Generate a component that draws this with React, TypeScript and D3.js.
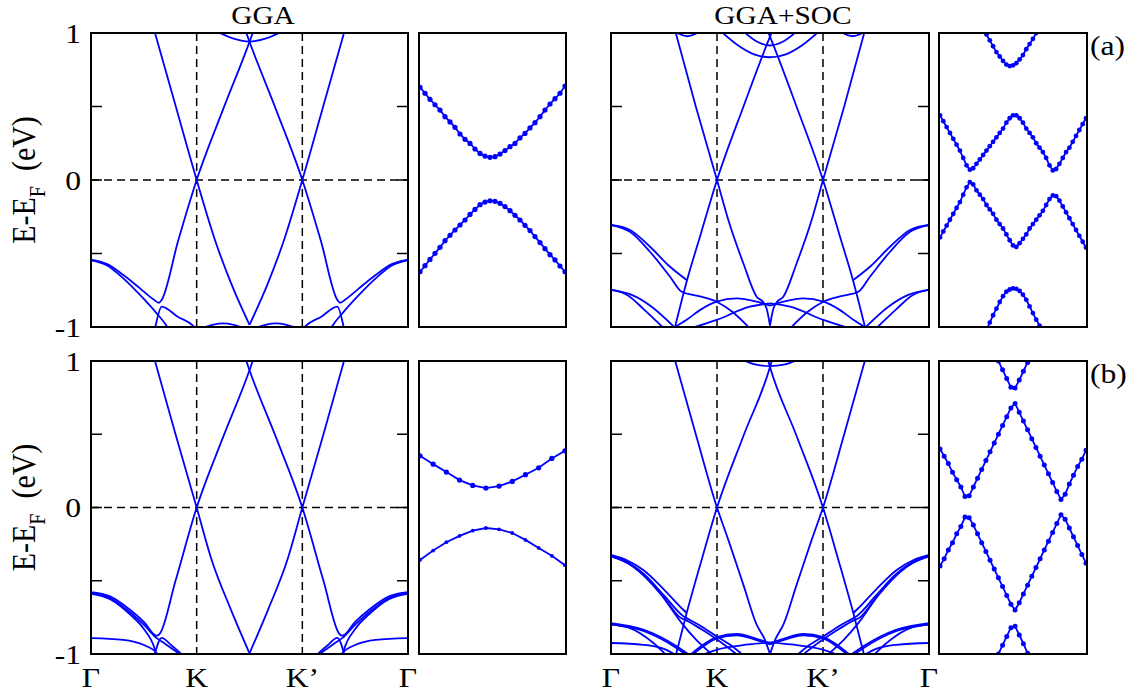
import React from 'react';
import * as d3 from 'd3';

type Pt = [number, number];
type Val = number | null;

// k-path: Γ=0, K=1, K'=2, Γ=3 ; energy E-E_F in eV
const kPath = [0, 1, 2, 3];
const kNames = ['Γ', 'K', 'K’', 'Γ'];
const eTicks = [-1, -0.5, 0, 0.5, 1];
const eLabels = ['-1', '', '0', '', '1'];
const titles = ['GGA', 'GGA+SOC'];
const rowTags = ['(a)', '(b)'];

// ---------- main panels: bands read from Γ to the K-K' midpoint (mirrored for the other half) ----------
// GGA (a)
const ggaA_gammaHi: Pt[] = [[0, -0.544], [0.148, -0.571], [0.306, -0.646], [0.464, -0.737], [0.59, -0.812], [0.643, -0.835], [0.665, -0.82], [0.826, -0.41], [1, 0], [1.25, 0.48], [1.5, 0.94], [1.535, 1.01]];
const ggaA_gammaLo: Pt[] = [[0, -0.544], [0.148, -0.58], [0.306, -0.669], [0.464, -0.782], [0.621, -0.907], [0.716, -0.993], [0.73, -1.01]];
const ggaA_cross: Pt[] = [[0.6, -1.03], [0.612, -0.99], [0.669, -0.862], [0.82, -0.93], [0.968, -0.993], [0.99, -1.01]];
const ggaA_diracDn: Pt[] = [[0.59, 1.04], [0.8, 0.506], [1, 0], [1.173, -0.408], [1.33, -0.71], [1.5, -0.985]];
const ggaA_botArc: Pt[] = [[1.04, -1.01], [1.15, -0.985], [1.25, -0.975], [1.35, -0.985], [1.46, -1.01]];
const ggaA_topU: Pt[] = [[1.19, 1.01], [1.35, 0.962], [1.5, 0.942], [1.65, 0.962], [1.81, 1.01]];

// GGA (b)
const ggaB_gammaHi: Pt[] = [[0, -0.578], [0.18, -0.607], [0.369, -0.698], [0.5, -0.78], [0.621, -0.875], [0.65, -0.862], [0.8, -0.5], [1, 0], [1.25, 0.48], [1.5, 0.937], [1.535, 1.01]];
const ggaB_gammaMid: Pt[] = [[0, -0.585], [0.18, -0.618], [0.369, -0.715], [0.5, -0.8], [0.62, -0.89], [0.7, -0.93], [0.858, -1.01]];
const ggaB_gammaMid2: Pt[] = [[0, -0.59], [0.18, -0.626], [0.369, -0.73], [0.5, -0.83], [0.605, -0.97], [0.62, -1.01]];
const ggaB_cross: Pt[] = [[0.6, -1.01], [0.669, -0.89], [0.76, -0.94], [0.87, -1.01]];
const ggaB_flat: Pt[] = [[0, -0.891], [0.306, -0.903], [0.495, -0.937], [0.621, -0.993], [0.64, -1.01]];
const ggaB_diracDn: Pt[] = [[0.59, 1.04], [0.8, 0.5], [1, 0], [1.142, -0.358], [1.32, -0.69], [1.5, -0.995]];

// GGA+SOC (a)
const socA_gammaA: Pt[] = [[0, -0.306], [0.179, -0.34], [0.368, -0.454], [0.557, -0.59], [0.714, -0.68]];
const socA_gammaB: Pt[] = [[0, -0.306], [0.179, -0.352], [0.368, -0.488], [0.557, -0.658], [0.667, -0.76], [0.83, -0.79], [0.997, -0.828], [1.15, -0.9], [1.31, -1.01]];
const socA_diracUp: Pt[] = [[0.59, -1.04], [0.714, -0.69], [0.85, -0.36], [1, 0], [1.25, 0.5], [1.5, 0.975], [1.52, 1.01]];
const socA_diracDn: Pt[] = [[0.6, 1.03], [0.8, 0.5], [1, 0], [1.107, -0.272], [1.25, -0.57], [1.374, -0.794], [1.44, -0.835], [1.47, -0.88], [1.5, -0.99]];
const socA_arcHi: Pt[] = [[0.58, -1.01], [0.714, -0.95], [0.85, -0.88], [0.997, -0.828], [1.186, -0.805], [1.374, -0.828], [1.5, -0.855]];
const socA_arcLo: Pt[] = [[0.745, -1.01], [0.997, -0.952], [1.311, -0.862], [1.5, -0.84]];
const socA_gammaC1: Pt[] = [[0, -0.748], [0.19, -0.78], [0.38, -0.86], [0.61, -1.01]];
const socA_gammaC2: Pt[] = [[0, -0.748], [0.16, -0.785], [0.31, -0.88], [0.5, -1.01]];
const socA_topArc: Pt[] = [[0.6, 1.01], [0.72, 0.978], [0.84, 1.01]];
const socA_topU1: Pt[] = [[1.04, 1.01], [1.2, 0.915], [1.35, 0.855], [1.5, 0.835], [1.65, 0.855], [1.8, 0.915], [1.96, 1.01]];
const socA_topU2: Pt[] = [[1.25, 1.01], [1.38, 0.94], [1.5, 0.915], [1.62, 0.94], [1.75, 1.01]];

// GGA+SOC (b)
const socB_gammaA: Pt[] = [[0, -0.324], [0.15, -0.36], [0.305, -0.426], [0.5, -0.56], [0.682, -0.698], [0.714, -0.72]];
const socB_gammaB: Pt[] = [[0, -0.33], [0.15, -0.37], [0.305, -0.45], [0.5, -0.6], [0.68, -0.74], [0.714, -0.755], [0.85, -0.81], [0.997, -0.88], [1.15, -0.95], [1.25, -1.01]];
const socB_gammaB2: Pt[] = [[0, -0.335], [0.15, -0.376], [0.305, -0.46], [0.5, -0.615], [0.66, -0.755], [0.714, -0.772], [0.85, -0.83], [0.997, -0.9], [1.2, -1.01]];
const socB_gammaC: Pt[] = [[0, -0.33], [0.2, -0.4], [0.462, -0.585], [0.667, -0.789], [0.8, -0.9], [0.965, -1.01]];
const socB_diracUp: Pt[] = [[0.6, -1.04], [0.714, -0.72], [0.85, -0.37], [1, 0], [1.25, 0.49], [1.5, 0.959], [1.52, 1.01]];
const socB_diracDn: Pt[] = [[0.59, 1.04], [0.8, 0.5], [1, 0], [1.107, -0.221], [1.25, -0.53], [1.374, -0.8], [1.45, -0.9], [1.5, -1.0]];
const socB_lowA: Pt[] = [[0, -0.789], [0.305, -0.834], [0.62, -0.948], [0.745, -1.01]];
const socB_lowA2: Pt[] = [[0, -0.797], [0.305, -0.843], [0.62, -0.96], [0.72, -1.01]];
const socB_lowB: Pt[] = [[0, -0.8], [0.179, -0.823], [0.4, -0.925], [0.525, -1.01]];
const socB_flat: Pt[] = [[0, -0.925], [0.305, -0.937], [0.5, -0.965], [0.62, -1.01]];
const socB_arcHi: Pt[] = [[0.74, -1.01], [0.997, -0.885], [1.186, -0.862], [1.374, -0.896], [1.5, -0.925]];
const socB_arcHi2: Pt[] = [[0.76, -1.01], [0.997, -0.895], [1.186, -0.872], [1.374, -0.906], [1.5, -0.935]];
const socB_arcLo: Pt[] = [[0.85, -1.01], [1.0, -0.97], [1.3, -0.935], [1.5, -0.92]];
const socB_topU: Pt[] = [[1.23, 1.01], [1.37, 0.975], [1.5, 0.965], [1.63, 0.975], [1.77, 1.01]];

// ---------- zoom panels: band values at each k-point (relative energy, panel spans -1..1) ----------
const ggaZoomA_cond: Val[] = [0.630, 0.590, 0.549, 0.512, 0.476, 0.431, 0.395, 0.358, 0.313, 0.277, 0.249, 0.211, 0.181, 0.163, 0.154, 0.159, 0.177, 0.200, 0.227, 0.249, 0.286, 0.317, 0.354, 0.390, 0.431, 0.476, 0.517, 0.553, 0.590, 0.639];
const ggaZoomA_val: Val[] = [-0.624, -0.583, -0.540, -0.499, -0.458, -0.413, -0.376, -0.340, -0.306, -0.272, -0.234, -0.200, -0.168, -0.150, -0.141, -0.145, -0.159, -0.181, -0.209, -0.240, -0.272, -0.308, -0.344, -0.385, -0.426, -0.467, -0.508, -0.544, -0.585, -0.624];
const ggaZoomB_cond: Val[] = [0.353, 0.296, 0.242, 0.187, 0.151, 0.133, 0.146, 0.178, 0.224, 0.271, 0.335, 0.387];
const ggaZoomB_val: Val[] = [-0.358, -0.294, -0.237, -0.194, -0.158, -0.140, -0.149, -0.174, -0.221, -0.276, -0.330, -0.394];

const socZoomA_b1: Val[] = [null, null, null, null, null, null, null, null, null, null, null, null, null, 1.04, 0.99, 0.95, 0.91, 0.87, 0.84, 0.81, 0.785, 0.775, 0.78, 0.795, 0.82, 0.85, 0.89, 0.925, 0.96, 1.0, 1.04, null, null, null, null, null, null, null, null, null, null, null, null, null, null];
const socZoomA_b2: Val[] = [0.44, 0.40, 0.36, 0.32, 0.28, 0.24, 0.20, 0.15, 0.10, 0.07, 0.08, 0.11, 0.14, 0.17, 0.20, 0.23, 0.26, 0.29, 0.32, 0.35, 0.39, 0.42, 0.44, 0.44, 0.42, 0.39, 0.35, 0.32, 0.29, 0.25, 0.22, 0.19, 0.15, 0.10, 0.065, 0.075, 0.11, 0.15, 0.19, 0.22, 0.26, 0.30, 0.34, 0.38, 0.42];
const socZoomA_b3: Val[] = [-0.39, -0.35, -0.31, -0.27, -0.23, -0.19, -0.15, -0.10, -0.05, -0.015, -0.03, -0.07, -0.10, -0.13, -0.17, -0.20, -0.23, -0.27, -0.30, -0.33, -0.37, -0.41, -0.445, -0.455, -0.43, -0.40, -0.37, -0.33, -0.30, -0.27, -0.24, -0.21, -0.17, -0.13, -0.105, -0.11, -0.14, -0.18, -0.22, -0.26, -0.30, -0.34, -0.38, -0.42, -0.46];
const socZoomA_b4: Val[] = [null, null, null, null, null, null, null, null, null, null, null, null, null, null, -1.02, -0.97, -0.92, -0.875, -0.83, -0.79, -0.76, -0.745, -0.737, -0.74, -0.755, -0.78, -0.815, -0.86, -0.905, -0.95, -0.99, -1.04, null, null, null, null, null, null, null, null, null, null, null, null, null];

const socZoomB_b1: Val[] = [null, null, null, null, null, null, null, null, null, null, null, null, null, null, 1.0, 0.94, 0.88, 0.82, 0.815, 0.87, 0.93, 0.99, 1.05, null, null, null, null, null, null, null, null, null, null, null, null, null];
const socZoomB_b2: Val[] = [0.40, 0.35, 0.30, 0.24, 0.19, 0.14, 0.075, 0.08, 0.14, 0.20, 0.26, 0.32, 0.38, 0.44, 0.50, 0.56, 0.62, 0.68, 0.71, 0.65, 0.59, 0.53, 0.47, 0.41, 0.35, 0.29, 0.23, 0.17, 0.11, 0.055, 0.09, 0.16, 0.22, 0.28, 0.33, 0.39];
const socZoomB_b3: Val[] = [-0.40, -0.35, -0.29, -0.24, -0.18, -0.13, -0.065, -0.07, -0.12, -0.18, -0.24, -0.30, -0.36, -0.42, -0.48, -0.54, -0.60, -0.66, -0.70, -0.65, -0.59, -0.53, -0.47, -0.41, -0.35, -0.29, -0.23, -0.17, -0.11, -0.05, -0.08, -0.14, -0.20, -0.26, -0.32, -0.38];
const socZoomB_b4: Val[] = [null, null, null, null, null, null, null, null, null, null, null, null, null, null, -1.0, -0.94, -0.88, -0.82, -0.81, -0.87, -0.93, -0.995, -1.06, null, null, null, null, null, null, null, null, null, null, null, null, null];

// Γ-K-K'-Γ is symmetric about the K-K' midpoint
const mirror = (s: Pt[]): Pt[] => s.map(([k, e]) => [3 - k, e] as Pt).reverse();
const withMirror = (halves: Pt[][], whole: Pt[][] = []) => [...halves, ...halves.map(mirror), ...whole];

const mainBands = [
  [
    withMirror([ggaA_gammaHi, ggaA_gammaLo, ggaA_cross, ggaA_diracDn, ggaA_botArc], [ggaA_topU]),
    withMirror([socA_gammaA, socA_gammaB, socA_diracUp, socA_diracDn, socA_arcHi, socA_arcLo, socA_gammaC1, socA_gammaC2, socA_topArc], [socA_topU1, socA_topU2]),
  ],
  [
    withMirror([ggaB_gammaHi, ggaB_gammaMid, ggaB_gammaMid2, ggaB_cross, ggaB_flat, ggaB_diracDn]),
    withMirror([socB_gammaA, socB_gammaB, socB_gammaB2, socB_gammaC, socB_diracUp, socB_diracDn, socB_lowA, socB_lowA2, socB_lowB, socB_flat, socB_arcHi, socB_arcHi2, socB_arcLo], [socB_topU]),
  ],
];
const zoomBands = [
  [{ s: [ggaZoomA_cond, ggaZoomA_val], r: [2.6, 2.6] }, { s: [socZoomA_b1, socZoomA_b2, socZoomA_b3, socZoomA_b4], r: [2.4, 2.4, 2.4, 2.4] }],
  [{ s: [ggaZoomB_cond, ggaZoomB_val], r: [2.6, 1.9] }, { s: [socZoomB_b1, socZoomB_b2, socZoomB_b3, socZoomB_b4], r: [2.5, 2.5, 2.5, 2.5] }],
];

const FONT = '"Liberation Serif", "Times New Roman", serif';
const BLUE = '#0000ff';
const SX = 1.13;
const ROW_Y = [[33, 327], [361, 654]];
const MAIN_X = [[91, 408], [611, 929]];
const ZOOM_X = [[419, 566], [939, 1087]];

const Txt = ({ x, y, size = 28, anchor = 'middle', children }: any) => (
  <text transform={`translate(${x},${y}) scale(${SX},1)`} textAnchor={anchor} fontSize={size} fontFamily={FONT} fill="#000">
    {children}
  </text>
);

function MainPanel({ id, xr, yr, lines, yLabels, kLabels }: any) {
  const x = d3.scaleLinear().domain([0, 3]).range(xr);
  const y = d3.scaleLinear().domain([-1, 1]).range([yr[1], yr[0]]);
  const path = d3.line<Pt>().x(d => x(d[0])).y(d => y(d[1])).curve(d3.curveMonotoneX);
  return (
    <g>
      <clipPath id={id}>
        <rect x={xr[0]} y={yr[0]} width={xr[1] - xr[0]} height={yr[1] - yr[0]} />
      </clipPath>
      <line x1={xr[0]} x2={xr[1]} y1={y(0)} y2={y(0)} stroke="#000" strokeWidth={1.5} strokeDasharray="8,5" />
      {[1, 2].map(k => (
        <line key={k} x1={x(k)} x2={x(k)} y1={yr[0]} y2={yr[1]} stroke="#000" strokeWidth={1.5} strokeDasharray="8,5" />
      ))}
      <g clipPath={`url(#${id})`}>
        {lines.map((s: Pt[], i: number) => (
          <path key={i} d={path(s) || ''} fill="none" stroke={BLUE} strokeWidth={1.8} />
        ))}
      </g>
      {eTicks.map(v => (
        <g key={v}>
          <line x1={xr[0]} x2={xr[0] + 11} y1={y(v)} y2={y(v)} stroke="#000" strokeWidth={1.5} />
          <line x1={xr[1] - 11} x2={xr[1]} y1={y(v)} y2={y(v)} stroke="#000" strokeWidth={1.5} />
        </g>
      ))}
      <rect x={xr[0]} y={yr[0]} width={xr[1] - xr[0]} height={yr[1] - yr[0]} fill="none" stroke="#000" strokeWidth={2} />
      {yLabels && eTicks.map((v, i) => eLabels[i] ? (
        <Txt key={v} x={xr[0] - 10} y={y(v) + 9.5} anchor="end">{eLabels[i]}</Txt>
      ) : null)}
      {kLabels && kPath.map((k, i) => (
        <Txt key={i} x={x(k)} y={687}>{kNames[i]}</Txt>
      ))}
    </g>
  );
}

function ZoomPanel({ id, xr, yr, series, radii }: any) {
  const n = series[0].length;
  const x = d3.scaleLinear().domain([0, n - 1]).range([xr[0] + 1, xr[1] - 1]);
  const y = d3.scaleLinear().domain([-1, 1]).range([yr[1], yr[0]]);
  const path = d3.line<Val>().defined(v => v !== null).x((_, i) => x(i)).y(v => y(v as number));
  return (
    <g>
      <clipPath id={id}>
        <rect x={xr[0]} y={yr[0]} width={xr[1] - xr[0]} height={yr[1] - yr[0]} />
      </clipPath>
      <g clipPath={`url(#${id})`}>
        {series.map((s: Val[], j: number) => (
          <g key={j}>
            <path d={path(s) || ''} fill="none" stroke={BLUE} strokeWidth={1.8} />
            {s.map((v, i) => v === null ? null : <circle key={i} cx={x(i)} cy={y(v)} r={radii[j]} fill={BLUE} />)}
          </g>
        ))}
      </g>
      <rect x={xr[0]} y={yr[0]} width={xr[1] - xr[0]} height={yr[1] - yr[0]} fill="none" stroke="#000" strokeWidth={2} />
    </g>
  );
}

export default function App() {
  return (
    <svg width={1134} height={696} style={{ position: 'absolute', left: 0, top: 0, background: '#fff' }}>
      <Txt x={263} y={24} size={26}>{titles[0]}</Txt>
      <Txt x={783} y={24} size={26}>{titles[1]}</Txt>
      {ROW_Y.map((yr, r) => (
        <g key={r}>
          <text transform={`translate(35,${(yr[0] + yr[1]) / 2}) rotate(-90) scale(1,${SX})`} textAnchor="middle" fontSize={30} fontFamily={FONT}>
            E-E<tspan fontSize={20} dy={9}>F</tspan><tspan dy={-9}>{'\u00a0\u00a0(eV)'}</tspan>
          </text>
          {MAIN_X.map((xr, c) => (
            <MainPanel key={c} id={`main-${r}-${c}`} xr={xr} yr={yr} lines={mainBands[r][c]} yLabels={c === 0} kLabels={r === 1} />
          ))}
          {ZOOM_X.map((xr, c) => (
            <ZoomPanel key={c} id={`zoom-${r}-${c}`} xr={xr} yr={yr} series={zoomBands[r][c].s} radii={zoomBands[r][c].r} />
          ))}
          <Txt x={1090} y={yr[0] + 22} anchor="start">{rowTags[r]}</Txt>
        </g>
      ))}
    </svg>
  );
}
